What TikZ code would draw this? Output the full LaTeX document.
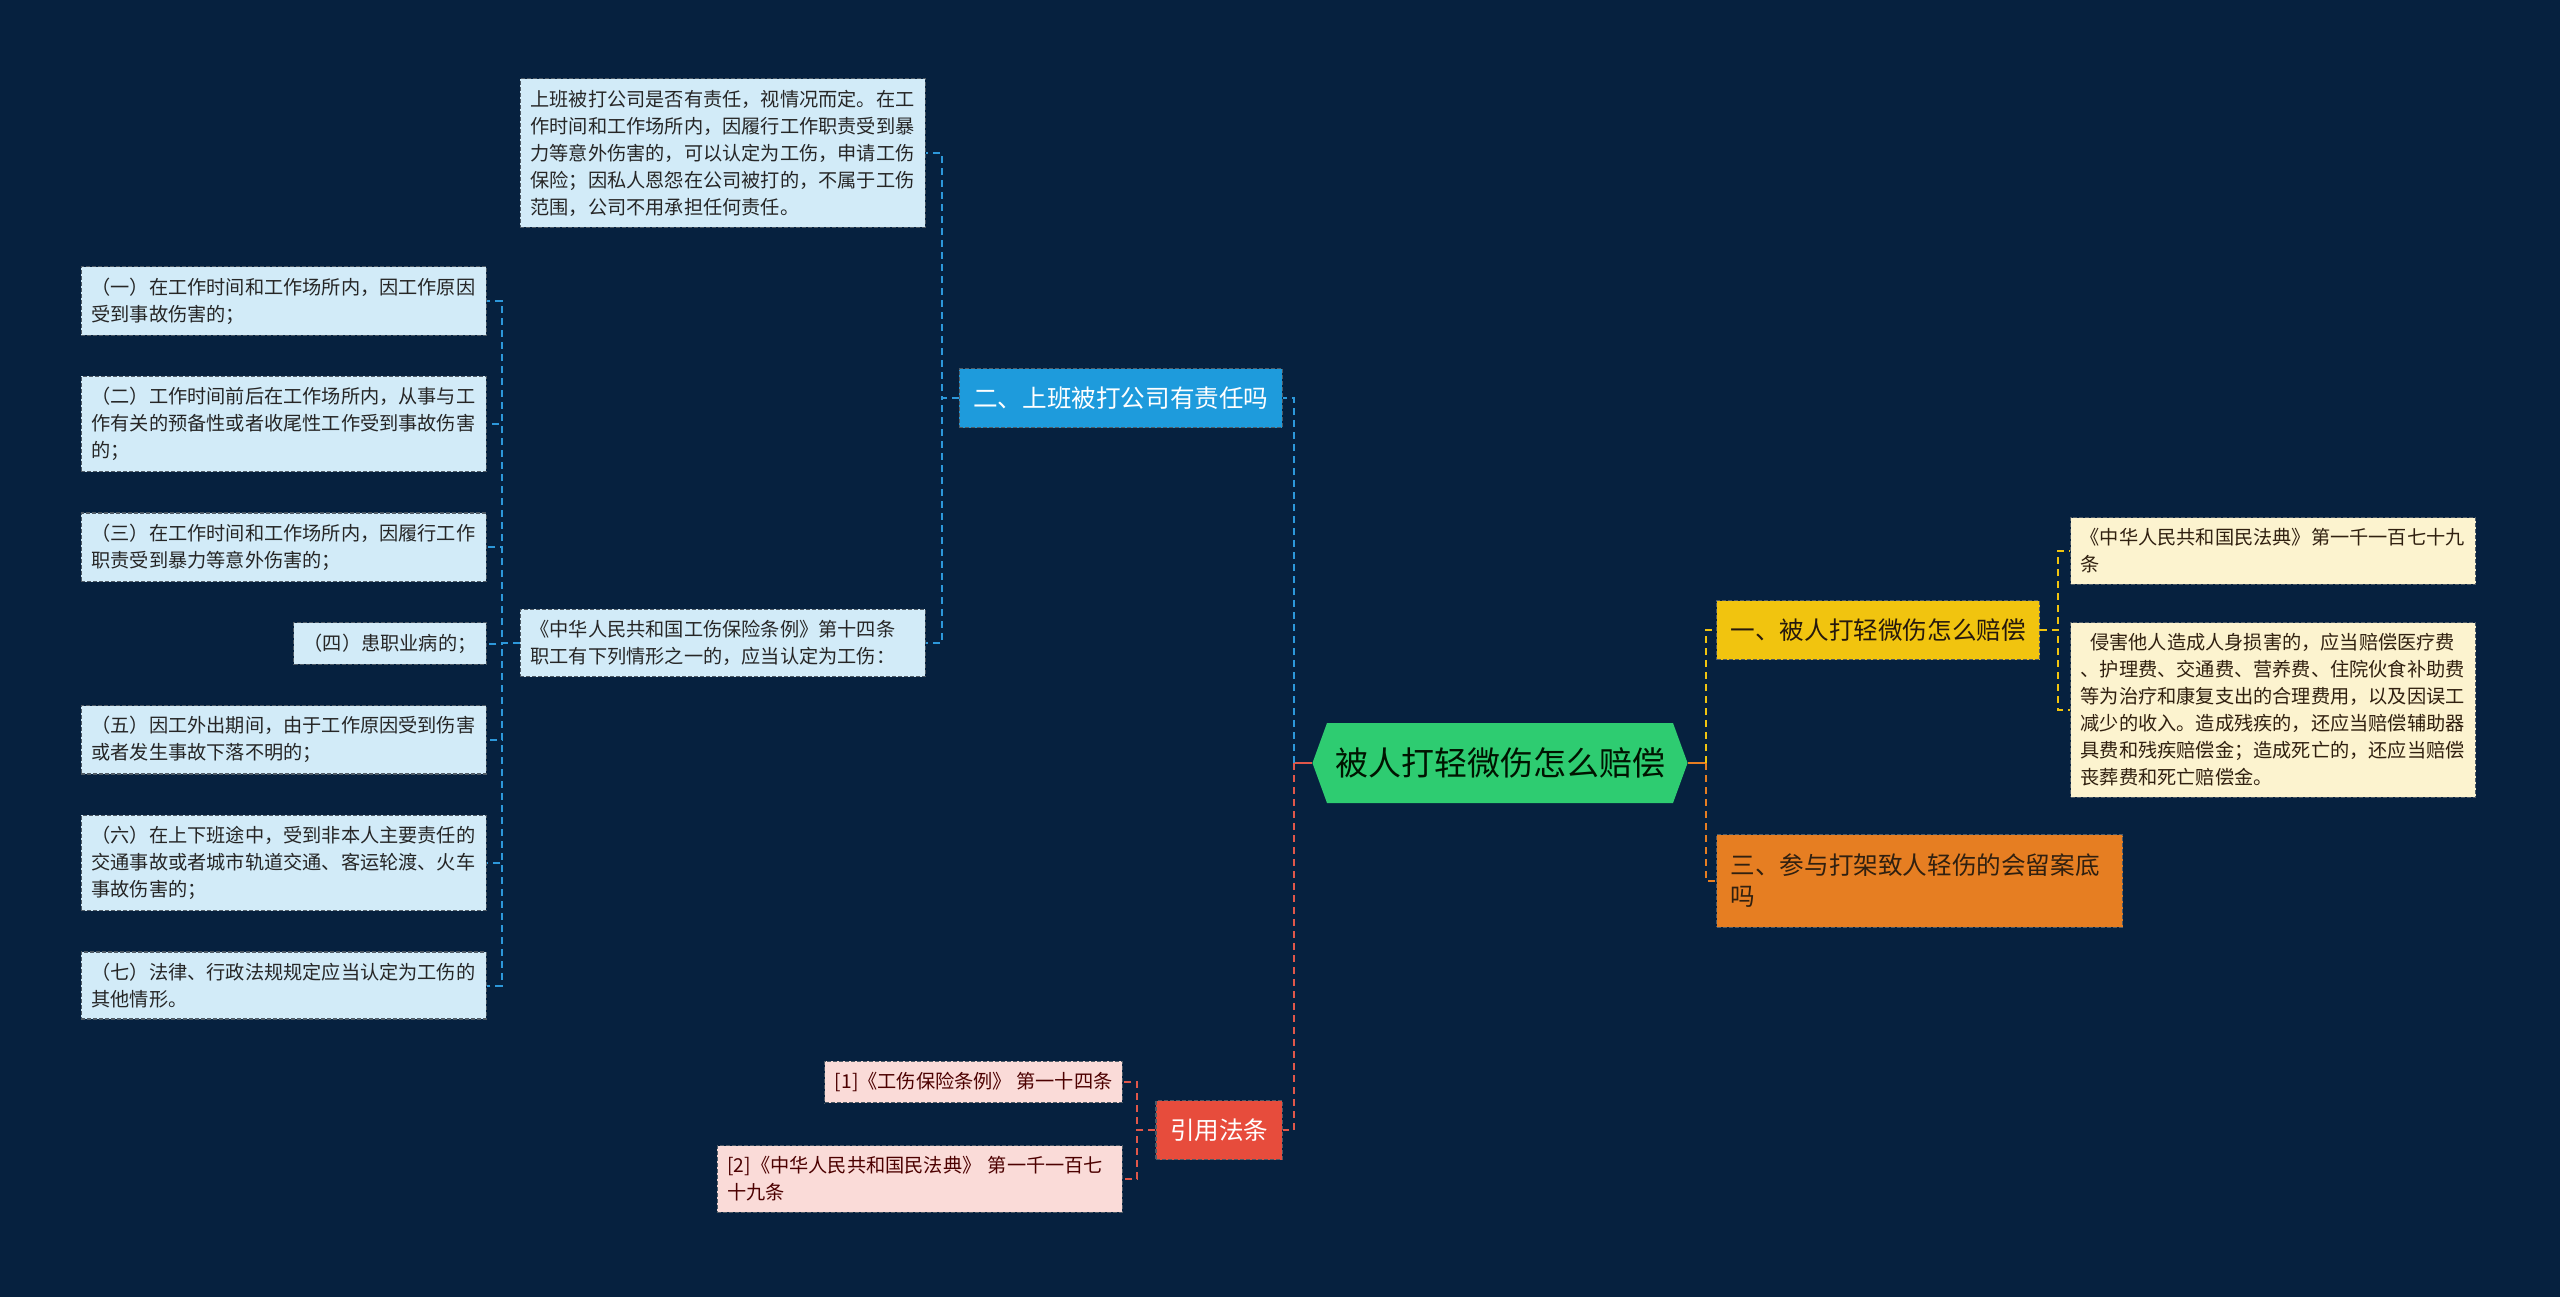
\documentclass[tikz,border=0pt]{standalone}
\usepackage{fontspec}
\setmainfont{Noto Sans CJK SC}
\usepackage{xcolor}
\usetikzlibrary{positioning,calc,shapes.symbols}
\definecolor{MapBack}{HTML}{06213F}
\definecolor{RootGreen}{HTML}{2ECC71}
\definecolor{TopicBlue}{HTML}{1E9BDC}
\definecolor{TopicYellow}{HTML}{F1C40F}
\definecolor{TopicOrange}{HTML}{E67E22}
\definecolor{TopicRed}{HTML}{E74C3C}
\definecolor{LeafBlue}{HTML}{D2EBF8}
\definecolor{LeafYellow}{HTML}{FCF3CF}
\definecolor{LeafRed}{HTML}{FADBD8}
\definecolor{LinkBlue}{HTML}{2D98DA}
\definecolor{LinkRed}{HTML}{E0574A}
\definecolor{LinkOrange}{HTML}{E67E22}
\definecolor{LinkYellow}{HTML}{F1C40F}
\definecolor{RimGray}{HTML}{4F5B66}

\begin{document}
\begin{tikzpicture}[x=0.5pt, y=-0.5pt,
    node distance=20pt,
    root/.style={shape=signal, signal to=west and east, signal pointer angle=140,
      fill=RootGreen, text=black!80!green!40!black, minimum width=178pt, minimum height=40pt,
      inner xsep=4pt, font=\fontsize{16.5pt}{20pt}\selectfont},
    topic/.style={draw=RimGray, dash pattern=on 2pt off 1pt, line width=0.6pt,
      inner xsep=7pt, inner ysep=4pt, minimum height=29.5pt, align=left,
      font=\fontsize{12.3pt}{15.5pt}\selectfont},
    leaf/.style={draw=RimGray, dash pattern=on 2pt off 1pt, line width=0.6pt,
      fill=LeafBlue, text=black!85, align=left, inner xsep=5pt, inner ysep=5.5pt,
      font=\fontsize{9.6pt}{13.5pt}\selectfont},
    wide/.style={leaf, text width=192.5pt},
    link/.style={draw=#1, line width=1pt, dash pattern=on 3.5pt off 2.5pt},
    stem/.style={draw=#1, line width=1pt}
  ]
  \useasboundingbox (0,0) rectangle (2560,1297);
  \fill[MapBack] (0,0) rectangle (2560,1297);

  \node[root] (root) at (1500,763) {被人打轻微伤怎么赔偿};
  \node[topic, fill=TopicBlue, text=white, anchor=east] (job) at (1283,398) {二、上班被打公司有责任吗};
  \node[topic, fill=TopicRed, text=white, anchor=east] (refs) at (1283,1130) {引用法条};
  \node[topic, fill=TopicYellow, text=black!80!brown, anchor=west] (comp) at (1716,630) {一、被人打轻微伤怎么赔偿};
  \node[topic, fill=TopicOrange, text=black!75!brown, anchor=west, text width=189pt, inner ysep=9.75pt] (record) at (1716,881) {三、参与打架致人轻伤的会留案底\\吗};

  \node[wide, anchor=east] (answer) at (926,153) {上班被打公司是否有责任，视情况而定。在工\\作时间和工作场所内，因履行工作职责受到暴\\力等意外伤害的，可以认定为工伤，申请工伤\\保险；因私人恩怨在公司被打的，不属于工伤\\范围，公司不用承担任何责任。};
  \node[wide, anchor=east] (rule) at (926,643) {《中华人民共和国工伤保险条例》第十四条\\职工有下列情形之一的，应当认定为工伤：};

  \node[wide, anchor=north east] (one) at (487,266) {（一）在工作时间和工作场所内，因工作原因\\受到事故伤害的；};
  \node[wide, below=of one.south east, anchor=north east] (two) {（二）工作时间前后在工作场所内，从事与工\\作有关的预备性或者收尾性工作受到事故伤害\\的；};
  \node[wide, below=of two.south east, anchor=north east] (three) {（三）在工作时间和工作场所内，因履行工作\\职责受到暴力等意外伤害的；};
  \node[leaf, below=of three.south east, anchor=north east] (four) {（四）患职业病的；};
  \node[wide, below=of four.south east, anchor=north east] (five) {（五）因工外出期间，由于工作原因受到伤害\\或者发生事故下落不明的；};
  \node[wide, below=of five.south east, anchor=north east] (six) {（六）在上下班途中，受到非本人主要责任的\\交通事故或者城市轨道交通、客运轮渡、火车\\事故伤害的；};
  \node[wide, below=of six.south east, anchor=north east] (seven) {（七）法律、行政法规规定应当认定为工伤的\\其他情形。};

  \node[wide, fill=LeafYellow, text=black!75!brown, anchor=west] (law) at (2070,551) {《中华人民共和国民法典》第一千一百七十九\\条};
  \node[wide, fill=LeafYellow, text=black!75!brown, anchor=west] (items) at (2070,710) {\hspace{0.5em}侵害他人造成人身损害的，应当赔偿医疗费\\、护理费、交通费、营养费、住院伙食补助费\\等为治疗和康复支出的合理费用，以及因误工\\减少的收入。造成残疾的，还应当赔偿辅助器\\具费和残疾赔偿金；造成死亡的，还应当赔偿\\丧葬费和死亡赔偿金。};

  \node[leaf, fill=LeafRed, text=black!70!red, anchor=east] (refone) at (1123,1082) {[1]《工伤保险条例》 第一十四条};
  \node[wide, fill=LeafRed, text=black!70!red, anchor=east] (reftwo) at (1123,1179) {[2]《中华人民共和国民法典》 第一千一百七\\十九条};

  \draw[stem=LinkRed] (root.west) -- ++(-18,0) coordinate (rootL);
  \draw[stem=LinkOrange] (root.east) -- ++(18,0) coordinate (rootR);
  \draw[link=LinkBlue] (rootL) |- (job.east);
  \draw[link=LinkRed] (rootL) |- (refs.east);
  \draw[link=LinkYellow] (rootR) |- (comp.west);
  \draw[link=LinkOrange] (rootR) |- (record.west);

  \draw[link=LinkBlue] (job.west) -- ++(-17,0) |- (answer.east);
  \draw[link=LinkBlue] (job.west) -- ++(-17,0) |- (rule.east);
  \foreach \item in {one,two,three,four,five,six,seven}
    \draw[link=LinkBlue] (rule.west) -- ++(-18,0) |- (\item.east);
  \draw[link=LinkYellow] (comp.east) -- ++(18,0) |- (law.west);
  \draw[link=LinkYellow] (comp.east) -- ++(18,0) |- (items.west);
  \draw[link=LinkRed] (refs.west) -- ++(-18,0) |- (refone.east);
  \draw[link=LinkRed] (refs.west) -- ++(-18,0) |- (reftwo.east);
\end{tikzpicture}
\end{document}
